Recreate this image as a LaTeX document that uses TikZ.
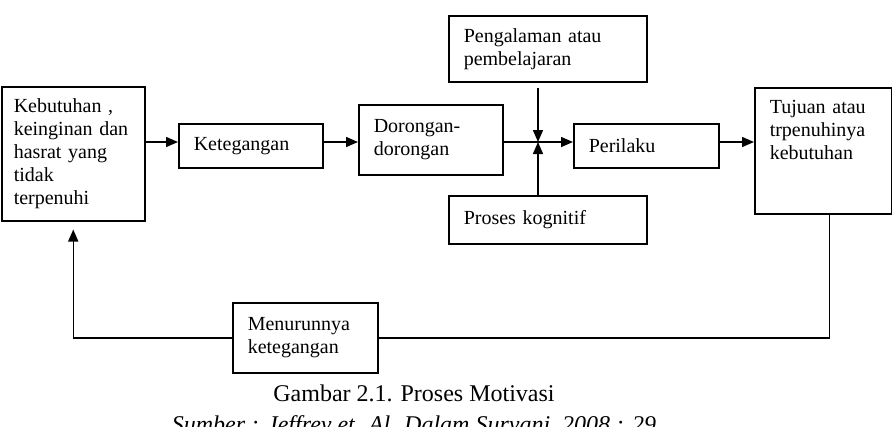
\documentclass[tikz,border=0pt]{standalone}
\usepackage{fontspec}
\setmainfont{Liberation Serif}
\usetikzlibrary{arrows.meta,positioning}

\begin{document}
\begin{tikzpicture}[x=1pt,y=-1pt,line width=1.5pt,
	kotak/.style={draw,anchor=north west,align=left,inner xsep=15pt,inner ysep=4pt,
		font=\fontsize{20}{23}\selectfont},
	panah/.style={-{Triangle[length=12pt,width=10pt]}},
	keterangan/.style={anchor=base,font=\fontsize{24}{28}\selectfont}]
	\useasboundingbox (0,0) rectangle (892,426);
	%% kotak-kotak utama
	\node[kotak,inner xsep=12pt,text width=119pt,minimum height=134pt] (kebutuhan) at (1,86)
		{Kebutuhan ,\\keinginan dan\\hasrat yang\\tidak\\terpenuhi};
	\node[kotak,text width=114pt,minimum height=44pt] (ketegangan) at (178,123) {Ketegangan};
	\node[kotak,text width=114pt,minimum height=70pt] (dorongan) at (358,104) {Dorongan-\\dorongan};
	\node[kotak,text width=168pt,minimum height=66pt] (pengalaman) at (448,15) {Pengalaman atau\\pembelajaran};
	\node[kotak,text width=168pt,minimum height=48pt] (proses) at (448,195) {Proses kognitif};
	\node[kotak,text width=115pt,minimum height=44pt] (perilaku) at (573,123) {Perilaku};
	\node[kotak,text width=107pt,minimum height=126pt] (tujuan) at (754,87)
		{\parbox[t][100pt][t]{107pt}{Tujuan atau\\trpenuhinya\\kebutuhan}};
	\node[kotak,text width=115pt,minimum height=70pt] (menurunnya) at (232,302) {Menurunnya\\ketegangan};
	
	%% alur utama
	\coordinate (titik) at (538,142);
	\draw[panah] (kebutuhan.east |- titik) -- (ketegangan.west |- titik);
	\draw[panah] (ketegangan.east |- titik) -- (dorongan.west |- titik);
	\draw (dorongan.east |- titik) -- (titik);
	\draw[panah] (titik) -- (perilaku.west |- titik);
	\draw[panah] (perilaku.east |- titik) -- (tujuan.west |- titik);
	%% pengaruh dari atas dan bawah
	\draw[panah] ([yshift=-5pt]pengalaman.south -| titik) -- (titik);
	\draw[panah] (proses.north -| titik) -- (titik);
	
	%% umpan balik
	\draw ([xshift=6pt]tujuan.south) |- (menurunnya.east);
	\draw[panah] (menurunnya.west) -| ([yshift=-8pt]kebutuhan.south);
	
	%% keterangan gambar
	\node[keterangan] (judul) at (414,401) {Gambar 2.1. Proses Motivasi};
	\node[keterangan,font=\fontsize{24}{28}\selectfont\itshape] (sumber) at (414,432)
		{Sumber : Jeffrey et. Al. Dalam Suryani, 2008 : 29};
\end{tikzpicture}
\end{document}
